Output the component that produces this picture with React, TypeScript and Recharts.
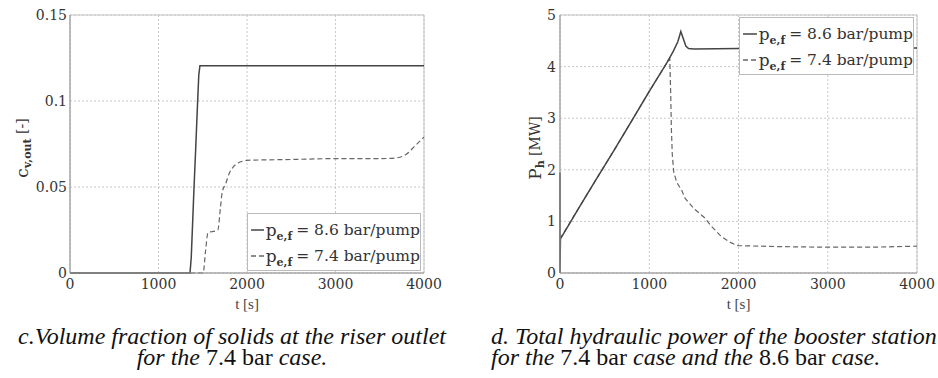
import { CartesianGrid, Line, LineChart, ReferenceArea, XAxis, YAxis } from 'recharts'

// time axis shared by both panels
const timeTicks = [0, 1000, 2000, 3000, 4000]
const fracTicks = [0, 0.05, 0.1, 0.15]
const powerTicks = [0, 1, 2, 3, 4, 5]

// panel c: volume fraction of solids at riser outlet
const fracHighT = [0, 1356, 1370, 1382, 1400, 1420, 1440, 1455, 1468, 2000, 3000, 3900, 4000]
const fracHighV = [0, 0, 0.009, 0.0245, 0.048, 0.072, 0.097, 0.115, 0.1205, 0.1205, 0.1205, 0.1205, 0.1205]
const fracLowT = [0, 1505, 1530, 1560, 1600, 1670, 1700, 1720, 1760, 1800, 1850, 1900, 1950, 2000, 2500, 3000, 3500, 3700, 3800, 3900, 4000]
const fracLowV = [0, 0, 0.012, 0.0235, 0.024, 0.025, 0.038, 0.047, 0.052, 0.058, 0.062, 0.064, 0.065, 0.0655, 0.066, 0.0665, 0.0665, 0.067, 0.069, 0.074, 0.079]

// panel d: total hydraulic power of booster station
const powerHighT = [0, 0, 5, 200, 400, 600, 800, 1000, 1200, 1270, 1320, 1354, 1380, 1410, 1440, 1500, 2000, 3000, 4000]
const powerHighV = [1.95, 0, 0.66, 1.23, 1.8, 2.36, 2.94, 3.52, 4.08, 4.3, 4.48, 4.68, 4.55, 4.4, 4.35, 4.34, 4.35, 4.35, 4.36]
const powerLowT = [0, 200, 400, 600, 800, 1000, 1200, 1230, 1240, 1248, 1258, 1275, 1310, 1365, 1400, 1500, 1620, 1700, 1800, 1900, 1960, 2000, 2500, 3000, 3500, 4000]
const powerLowV = [0.66, 1.23, 1.8, 2.36, 2.94, 3.52, 4.08, 4.15, 3.5, 2.8, 2.3, 1.95, 1.75, 1.6, 1.45, 1.25, 1.07, 0.9, 0.72, 0.6, 0.55, 0.53, 0.51, 0.5, 0.5, 0.52]

const seriesLabels = ['8.6 bar/pump', '7.4 bar/pump']

const zip = (t: number[], v: number[]) => t.map((x, i) => ({ t: x, v: v[i] }))

const SERIF = '"Liberation Serif", "Times New Roman", Times, serif'
const tickStyle = { fontFamily: 'DejaVu Serif', fontSize: 14, fill: '#333' }
const SOLID = '#444'
const DASHED = '#666'

function YTitle(props: any) {
  const vb = props.viewBox || { x: 0, y: 0, width: 0, height: 0 }
  const cx = vb.x + props.dx
  const cy = vb.y + vb.height / 2 + 4
  return (
    <text
      transform={`rotate(-90 ${cx} ${cy})`}
      x={cx}
      y={cy}
      textAnchor="middle"
      dominantBaseline="central"
      fontFamily="DejaVu Serif"
      fill="#333"
    >
      <tspan fontSize={17}>{props.main}</tspan>
      <tspan fontSize={11} dy={5} fontWeight="bold">{props.sub}</tspan>
      <tspan fontSize={14} dy={-5}>{' ' + props.unit}</tspan>
    </text>
  )
}

function XTitle(props: any) {
  const vb = props.viewBox || { x: 0, y: 0, width: 0, height: 0 }
  return (
    <text
      x={vb.x + vb.width / 2}
      y={vb.y + 31}
      textAnchor="middle"
      dominantBaseline="central"
      fontFamily={SERIF}
      fontSize={15}
      fill="#444"
    >
      t [s]
    </text>
  )
}

function LegendBox({ left, top, width }: { left: number; top: number; width: number }) {
  return (
    <div
      style={{
        position: 'absolute',
        left,
        top,
        width,
        height: 58,
        boxSizing: 'border-box',
        background: '#fff',
        border: '1px solid #bbb',
        padding: '3px 0 0 3px',
        fontFamily: 'DejaVu Serif',
        color: '#333',
      }}
    >
      {seriesLabels.map((name, i) => (
        <div key={name} style={{ height: 26, display: 'flex', alignItems: 'center', whiteSpace: 'nowrap' }}>
          <svg width={17} height={4} style={{ marginRight: 2 }}>
            <line
              x1={0}
              y1={2}
              x2={17}
              y2={2}
              stroke={i === 0 ? SOLID : DASHED}
              strokeWidth={1.5}
              strokeDasharray={i === 0 ? undefined : '5 3'}
            />
          </svg>
          <span style={{ fontSize: 17 }}>p</span>
          <span style={{ fontSize: 11, fontWeight: 'bold', position: 'relative', top: 6 }}>e,f</span>
          <span style={{ fontSize: 15.5, marginLeft: 4 }}>= {name}</span>
        </div>
      ))}
    </div>
  )
}

const captionStyle = {
  position: 'absolute' as const,
  top: 326,
  fontFamily: SERIF,
  fontSize: 24,
  lineHeight: '21px',
  fontStyle: 'italic' as const,
  color: '#111',
  whiteSpace: 'nowrap' as const,
}

export default function App() {
  return (
    <div style={{ position: 'absolute', left: 0, top: 0, width: 938, height: 378, background: '#fff' }}>
      <div style={{ position: 'absolute', left: 0, top: 0, width: 470, height: 320 }}>
        <LineChart width={470} height={320} margin={{ top: 15, right: 46, left: 20, bottom: 7 }}>
          <CartesianGrid stroke="#c8c8c8" strokeDasharray="2 2" />
          <XAxis
            type="number"
            dataKey="t"
            domain={[0, 4000]}
            ticks={timeTicks}
            tick={tickStyle}
            tickSize={0}
            tickMargin={6}
            axisLine={{ stroke: '#999' }}
            height={40}
            label={<XTitle />}
          />
          <YAxis
            type="number"
            domain={[0, 0.15]}
            ticks={fracTicks}
            tick={tickStyle}
            tickSize={0}
            tickMargin={3}
            axisLine={{ stroke: '#999' }}
            width={50}
            label={<YTitle dx={2} main="c" sub="v,out" unit="[-]" />}
          />
          <ReferenceArea x1={0} x2={4000} y1={0} y2={0.15} fill="none" fillOpacity={0} stroke="#c4c4c4" />
          <Line data={zip(fracHighT, fracHighV)} dataKey="v" type="linear" stroke={SOLID} strokeWidth={1.5} dot={false} isAnimationActive={false} />
          <Line data={zip(fracLowT, fracLowV)} dataKey="v" type="monotone" stroke={DASHED} strokeWidth={1.2} strokeDasharray="5 3" dot={false} isAnimationActive={false} />
        </LineChart>
        <LegendBox left={247} top={213} width={174} />
      </div>

      <div style={{ position: 'absolute', left: 470, top: 0, width: 468, height: 320 }}>
        <LineChart width={468} height={320} margin={{ top: 15, right: 21, left: 50, bottom: 7 }}>
          <CartesianGrid stroke="#c8c8c8" strokeDasharray="2 2" />
          <XAxis
            type="number"
            dataKey="t"
            domain={[0, 4000]}
            ticks={timeTicks}
            tick={tickStyle}
            tickSize={0}
            tickMargin={6}
            axisLine={{ stroke: '#999' }}
            height={40}
            label={<XTitle />}
          />
          <YAxis
            type="number"
            domain={[0, 5]}
            ticks={powerTicks}
            tick={tickStyle}
            tickSize={0}
            tickMargin={4}
            axisLine={{ stroke: '#999' }}
            width={40}
            label={<YTitle dx={15} main="P" sub="h" unit="[MW]" />}
          />
          <ReferenceArea x1={0} x2={4000} y1={0} y2={5} fill="none" fillOpacity={0} stroke="#c4c4c4" />
          <Line data={zip(powerLowT, powerLowV)} dataKey="v" type="linear" stroke={DASHED} strokeWidth={1.2} strokeDasharray="5 3" dot={false} isAnimationActive={false} />
          <Line data={zip(powerHighT, powerHighV)} dataKey="v" type="linear" stroke={SOLID} strokeWidth={1.5} dot={false} isAnimationActive={false} />
        </LineChart>
        <LegendBox left={269} top={17} width={175} />
      </div>

      <div style={{ ...captionStyle, left: 0, width: 464, textAlign: 'center' }}>
        <div>c.Volume fraction of solids at the riser outlet</div>
        <div>
          for the <span style={{ fontStyle: 'normal' }}>7.4 bar</span> case.
        </div>
      </div>
      <div style={{ ...captionStyle, left: 491 }}>
        <div>d. Total hydraulic power of the booster station</div>
        <div>
          for the <span style={{ fontStyle: 'normal' }}>7.4 bar</span> case and the{' '}
          <span style={{ fontStyle: 'normal' }}>8.6 bar</span> case.
        </div>
      </div>
    </div>
  )
}
